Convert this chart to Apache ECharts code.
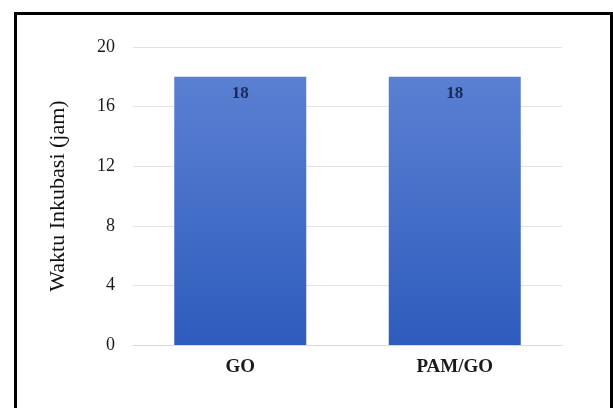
<!DOCTYPE html>
<html>
<head>
<meta charset="utf-8">
<script src="https://cdn.jsdelivr.net/npm/echarts@6/dist/echarts.min.js"></script>
<style>html,body{margin:0;padding:0;background:#fff;}#c{width:613px;height:408px;}</style>
</head>
<body>
<div id="c"></div>
<script>
const categories = ['GO', 'PAM/GO'];
const values = [18, 18];
const yTicks = [0, 4, 8, 12, 16, 20];

const chart = echarts.init(document.getElementById('c'));
chart.setOption({
  animation: false,
  backgroundColor: '#fff',
  graphic: [{
    type: 'rect',
    shape: { x: 15.5, y: 13.5, width: 596, height: 430 },
    style: { fill: 'none', stroke: '#000', lineWidth: 3 },
    silent: true
  }],
  grid: { left: 133, right: 51, top: 47, bottom: 63 },
  xAxis: {
    type: 'category',
    data: categories,
    axisLine: { show: true, lineStyle: { color: '#d9d9d9' } },
    axisTick: { show: false },
    axisLabel: { fontFamily: 'Liberation Serif', fontWeight: 'bold', fontSize: 19, color: '#1a1a1a', margin: 13 }
  },
  yAxis: {
    type: 'value',
    min: 0, max: 20, interval: 4,
    name: 'Waktu Inkubasi (jam)',
    nameLocation: 'middle',
    nameGap: 64,
    nameTextStyle: { fontFamily: 'Liberation Serif', fontSize: 22, color: '#111' },
    axisLine: { show: false },
    axisTick: { show: false },
    axisLabel: { fontFamily: 'Liberation Serif', fontSize: 18, color: '#1a1a1a', margin: 18,
      formatter: v => yTicks.includes(v) ? String(v) : '' },
    splitLine: { lineStyle: { color: '#e3e3e3' } }
  },
  series: [{
    type: 'bar',
    data: values,
    barWidth: 132,
    itemStyle: {
      color: new echarts.graphic.LinearGradient(0, 0, 0, 1, [
        { offset: 0, color: '#5a80d2' },
        { offset: 1, color: '#2e5cbd' }
      ])
    },
    label: { show: true, position: 'insideTop', distance: 8, fontFamily: 'Liberation Serif', fontWeight: 'bold', fontSize: 17, color: '#1a2a55' }
  }]
});
</script>
</body>
</html>
